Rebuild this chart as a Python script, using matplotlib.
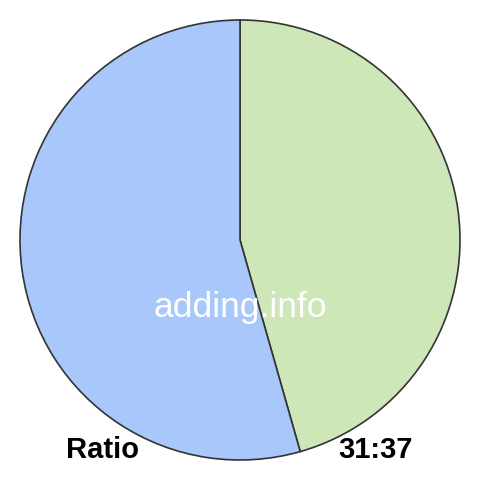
import matplotlib
matplotlib.use('Agg')
import matplotlib.pyplot as plt

# ratio parts: green slice first (clockwise from top), then blue
labels = ['31', '37']
values = [31, 37]
colors = ['#cde7b9', '#a8c7fa']
ratio_text = '31:37'

plt.rcParams['font.family'] = ['Liberation Sans', 'DejaVu Sans']

fig = plt.figure(figsize=(4.8, 4.8), dpi=100)
ax = fig.add_axes([0, 0, 1, 1])

ax.pie(values, colors=colors, startangle=90, counterclock=False,
       radius=220, center=(240, 240), frame=True,
       wedgeprops=dict(edgecolor='#333333', linewidth=1.2))
ax.set_xlim(0, 480)
ax.set_ylim(0, 480)
ax.set_aspect('equal')
ax.axis('off')

# pixel positions measured from top of image
ax.text(240, 480 - 308, 'adding.info', color='white', fontsize=25.5,
        ha='center', va='center')
ax.text(103, 480 - 450, 'Ratio', color='black', fontsize=21, fontweight='bold',
        ha='center', va='center')
ax.text(375, 480 - 450, ratio_text, color='black', fontsize=21, fontweight='bold',
        ha='center', va='center')

fig.savefig('out.png', dpi=100)
